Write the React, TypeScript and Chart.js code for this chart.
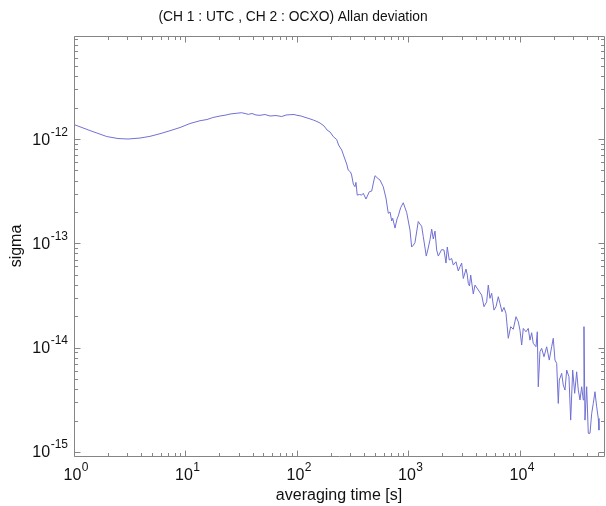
import React, { useEffect, useRef } from "react";
import { Chart, registerables } from "chart.js";

Chart.register(...registerables);

// averaging time tau [s]
const tau: number[] = [
  1, 1.39, 1.965, 2.48, 3.05, 3.91, 4.8, 5.91, 7.26, 8.93,
  10.97, 13.5, 15.6, 17.6, 20.4, 23.1, 25.1, 28.4, 31.9, 34.2,
  36.6, 39.5, 42.9, 46.6, 51.6, 57.3, 64.8, 72.9, 79.7, 86.5,
  94.0, 100, 109, 118, 128, 140, 151, 161, 175, 186,
  198, 212, 227, 236, 252, 261, 279, 288, 302, 309,
  320, 331, 338, 347, 364, 380, 393, 416, 445, 468,
  486, 501, 533, 555, 594, 628, 659, 683, 707, 722,
  757, 789, 810, 851, 898, 964, 1032, 1068, 1109, 1144,
  1224, 1268, 1313, 1357, 1444, 1496, 1559, 1615, 1669, 1729,
  1790, 1851, 1985, 2082, 2170, 2228, 2322, 2440, 2522, 2667,
  2797, 2897, 3000, 3101, 3280, 3369, 3439, 3525, 3614, 3813,
  3950, 4227, 4534, 4754, 5027, 5195, 5381, 5573, 5847, 6094,
  6389, 6617, 6898, 7189, 7489, 7856, 8254, 8708, 9207, 9656,
  10000, 10356, 10705, 11320, 11870, 12290, 12730, 13160, 13920, 14300,
  14590, 15110, 15650, 16420, 17360, 18310, 19240, 19890, 20600, 21340,
  22060, 22520, 23660, 24450, 25330, 26230, 27510, 28490, 29700, 30950,
  32250, 33340, 34530, 35760, 36960, 37500, 38280, 39650, 40990, 42450,
  43970, 45440, 47060, 48740, 50370, 51110,
];

// Allan deviation sigma(tau)
const sigma: number[] = [
  1.377e-12, 1.206e-12, 1.057e-12, 1.011e-12, 1.0e-12, 1.022e-12, 1.061e-12, 1.124e-12, 1.201e-12, 1.289e-12,
  1.408e-12, 1.498e-12, 1.538e-12, 1.607e-12, 1.662e-12, 1.699e-12, 1.737e-12, 1.764e-12, 1.787e-12, 1.756e-12,
  1.725e-12, 1.756e-12, 1.699e-12, 1.688e-12, 1.718e-12, 1.662e-12, 1.68e-12, 1.643e-12, 1.699e-12, 1.71e-12,
  1.718e-12, 1.688e-12, 1.662e-12, 1.614e-12, 1.572e-12, 1.521e-12, 1.472e-12, 1.423e-12, 1.332e-12, 1.22e-12,
  1.167e-12, 1.052e-12, 9.89e-13, 8.76e-13, 7.84e-13, 7.03e-13, 5.76e-13, 5.04e-13, 4.83e-13, 4.52e-13,
  3.7e-13, 3.49e-13, 3.84e-13, 2.9e-13, 2.94e-13, 2.9e-13, 3.02e-13, 2.66e-13, 3.12e-13, 3.17e-13,
  3.87e-13, 4.45e-13, 4.18e-13, 4.05e-13, 3.49e-13, 2.72e-13, 1.94e-13, 2.0e-13, 1.64e-13, 1.74e-13,
  1.4e-13, 1.71e-13, 1.83e-13, 2.2e-13, 2.45e-13, 1.97e-13, 1.34e-13, 9.22e-14, 9.63e-14, 1.02e-13,
  1.62e-13, 1.53e-13, 1.46e-13, 1.16e-13, 7.55e-14, 8.82e-14, 1.08e-13, 1.37e-13, 1.1e-13, 1.31e-13,
  8.63e-14, 7.55e-14, 8.72e-14, 8.63e-14, 6.47e-14, 9.22e-14, 6.92e-14, 7.15e-14, 6.19e-14, 6.66e-14,
  5.43e-14, 5.97e-14, 6.47e-14, 4.6e-14, 5.67e-14, 4.97e-14, 4.13e-14, 3.9e-14, 4.97e-14, 3.27e-14,
  3.98e-14, 3.57e-14, 3.19e-14, 2.47e-14, 2.75e-14, 3.98e-14, 2.97e-14, 3.32e-14, 2.29e-14, 2.47e-14,
  3.08e-14, 2.66e-14, 2.21e-14, 2.43e-14, 2.13e-14, 1.23e-14, 1.59e-14, 1.5e-14, 1.98e-14, 1.77e-14,
  1.47e-14, 1.06e-14, 1.53e-14, 1.42e-14, 1.53e-14, 1.18e-14, 1.39e-14, 1.1e-14, 1.02e-14, 1.42e-14,
  4.22e-15, 9.14e-15, 9.85e-15, 8.18e-15, 1.02e-14, 7.6e-15, 1.02e-14, 1.23e-14, 7.6e-15, 7.07e-15,
  2.92e-15, 4.89e-15, 5.67e-15, 4.38e-15, 3.92e-15, 6.1e-15, 5.26e-15, 2.02e-15, 6.1e-15, 3.65e-15,
  5.87e-15, 3.92e-15, 3.15e-15, 4.22e-15, 3.15e-15, 1.59e-14, 2.02e-15, 4.22e-15, 1.51e-15, 1.51e-15,
  2.34e-15, 2.92e-15, 3.78e-15, 2.71e-15, 2.1e-15, 1.62e-15,
];

// decade tick labels (exponents of 10)
const xTickExponents: string[] = ["0", "1", "2", "3", "4"];
const yTickExponents: string[] = ["-15", "-14", "-13", "-12"];

const xMin = 1;
const xMax = 5.67e4;
const yMin = 9.15e-16;
const yMax = 9.72e-12;

const chartTitle = "(CH 1 : UTC , CH 2 : OCXO) Allan deviation";
const xAxisTitle = "averaging time [s]";
const yAxisTitle = "sigma";

const FONT = "'Liberation Sans', Arial, Helvetica, sans-serif";
const AXIS_COLOR = "#858585";
const TEXT_COLOR = "#111111";
const LINE_COLOR = "rgb(112,112,212)";

function drawPower(
  ctx: CanvasRenderingContext2D,
  exp: string,
  x: number,
  baseline: number,
  align: "center" | "right"
) {
  ctx.font = `16px ${FONT}`;
  const wb = ctx.measureText("10").width;
  ctx.font = `12px ${FONT}`;
  const we = ctx.measureText(exp).width;
  const total = wb + we + 0.5;
  const start = align === "center" ? x - total / 2 : x - total;
  ctx.textAlign = "left";
  ctx.textBaseline = "alphabetic";
  ctx.font = `16px ${FONT}`;
  ctx.fillText("10", start, baseline);
  ctx.font = `12px ${FONT}`;
  ctx.fillText(exp, start + wb + 0.5, baseline - 9);
}

const framePlugin = {
  id: "framePlugin",
  afterDraw(chart: any) {
    const { ctx, chartArea: a, scales } = chart;
    const xs = scales.x;
    const ys = scales.y;
    const L = Math.round(a.left) + 0.5;
    const R = Math.round(a.right) + 0.5;
    const T = Math.round(a.top) + 0.5;
    const B = Math.round(a.bottom) + 0.5;
    ctx.save();
    ctx.strokeStyle = AXIS_COLOR;
    ctx.lineWidth = 1;
    ctx.beginPath();
    ctx.moveTo(L, T);
    ctx.lineTo(R, T);
    ctx.lineTo(R, B);
    ctx.lineTo(L, B);
    ctx.closePath();
    ctx.stroke();

    const major = 6;
    const minor = 3.5;
    ctx.beginPath();
    // x ticks
    for (const e of xTickExponents) {
      const base = Math.pow(10, Number(e));
      for (let m = 1; m <= 9; m++) {
        const v = base * m;
        if (v < xMin || v > xMax) continue;
        const p = Math.round(xs.getPixelForValue(v)) + 0.5;
        const len = m === 1 ? major : minor;
        ctx.moveTo(p, B);
        ctx.lineTo(p, B - len);
        ctx.moveTo(p, T);
        ctx.lineTo(p, T + len);
      }
    }
    // y ticks
    const yDecadesAll = ["-16", ...yTickExponents, "-11"];
    for (const e of yDecadesAll) {
      const base = Math.pow(10, Number(e));
      for (let m = 1; m <= 9; m++) {
        const v = base * m;
        if (v < yMin || v > yMax) continue;
        const p = Math.round(ys.getPixelForValue(v)) + 0.5;
        const len = m === 1 ? major : minor;
        ctx.moveTo(L, p);
        ctx.lineTo(L + len, p);
        ctx.moveTo(R, p);
        ctx.lineTo(R - len, p);
      }
    }
    ctx.stroke();

    ctx.fillStyle = TEXT_COLOR;
    // x tick labels
    for (const e of xTickExponents) {
      const p = xs.getPixelForValue(Math.pow(10, Number(e)));
      drawPower(ctx, e, p + 2, 480, "center");
    }
    // y tick labels
    for (const e of yTickExponents) {
      const p = ys.getPixelForValue(Math.pow(10, Number(e)));
      drawPower(ctx, e, a.left - 6, p + 5.5, "right");
    }

    // title
    ctx.textAlign = "center";
    ctx.textBaseline = "alphabetic";
    ctx.font = `13.8px ${FONT}`;
    ctx.fillText(chartTitle, 293, 21);

    // x axis title
    ctx.font = `16px ${FONT}`;
    ctx.fillText(xAxisTitle, (a.left + a.right) / 2, 500);

    // y axis title
    ctx.save();
    ctx.translate(21, (a.top + a.bottom) / 2);
    ctx.rotate(-Math.PI / 2);
    ctx.textAlign = "center";
    ctx.fillText(yAxisTitle, 0, 0);
    ctx.restore();

    ctx.restore();
  },
};

export default function App() {
  const canvasRef = useRef<HTMLCanvasElement | null>(null);

  useEffect(() => {
    const canvas = canvasRef.current;
    if (!canvas) return;
    const points = tau.map((t, i) => ({ x: t, y: sigma[i] }));
    const chart = new Chart(canvas, {
      type: "line",
      data: {
        datasets: [
          {
            data: points,
            borderColor: LINE_COLOR,
            borderWidth: 1,
            pointRadius: 0,
            tension: 0,
            fill: false,
          },
        ],
      },
      options: {
        responsive: false,
        maintainAspectRatio: false,
        devicePixelRatio: 1,
        animation: false,
        layout: { padding: { top: 36, right: 2, left: 0, bottom: 0 } },
        plugins: {
          legend: { display: false },
          title: { display: false },
          tooltip: { enabled: false },
        },
        scales: {
          x: {
            type: "logarithmic",
            min: xMin,
            max: xMax,
            bounds: "data",
            grid: { display: false },
            border: { display: false },
            ticks: { display: false },
            afterFit: (s: any) => {
              s.height = 50;
            },
          },
          y: {
            type: "logarithmic",
            min: yMin,
            max: yMax,
            bounds: "data",
            grid: { display: false },
            border: { display: false },
            ticks: { display: false },
            afterFit: (s: any) => {
              s.width = 74;
            },
          },
        },
      } as any,
      plugins: [framePlugin],
    });
    return () => chart.destroy();
  }, []);

  return (
    <div style={{ position: "absolute", left: 0, top: 0, width: 606, height: 506, background: "#fff" }}>
      <canvas ref={canvasRef} width={606} height={506} style={{ width: 606, height: 506, display: "block" }} />
    </div>
  );
}
